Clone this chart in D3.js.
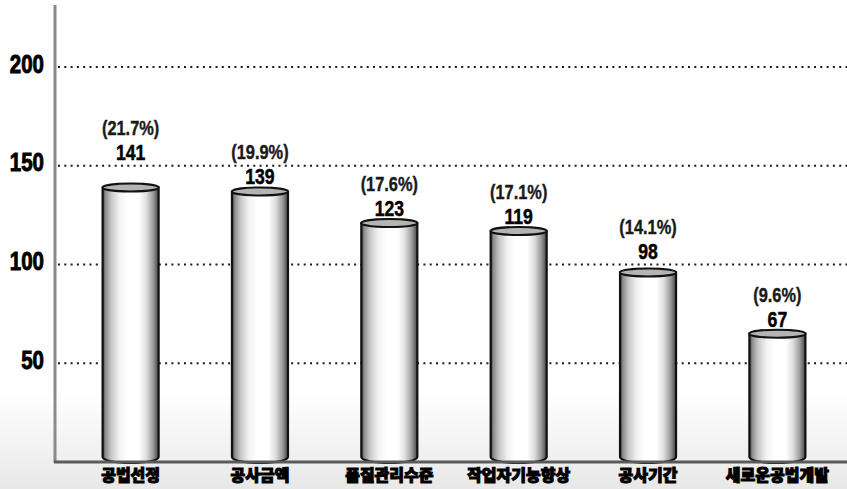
<!DOCTYPE html>
<html>
<head>
<meta charset="utf-8">
<script src="https://cdn.jsdelivr.net/npm/d3@7"></script>
<style>
  body { margin: 0; background: #fff; }
  svg { display: block; }
</style>
</head>
<body>
<div id="chart"></div>
<script>

var categories = ['공법선정', '공사금액', '품질관리수준', '작업자기능향상', '공사기간', '새로운공법개발']
var counts = [141, 139, 123, 119, 98, 67]
var shares = ['(21.7%)', '(19.9%)', '(17.6%)', '(17.1%)', '(14.1%)', '(9.6%)']
var yTicks = [50, 100, 150, 200]

var width = 847
var height = 489
var numFont = '"Liberation Sans", Arial, sans-serif'
var krFont = '"Noto Sans CJK KR", sans-serif'

var svg = d3.select('#chart')
  .append('svg')
  .attr('width', width)
  .attr('height', height)

var x = d3.scaleBand()
  .domain(categories)
  .range([66, 842])
  .paddingInner(0.567)
  .paddingOuter(0.283)

var y = d3.scaleLinear()
  .domain([0, 200])
  .range([462, 67])

function cx(i) { return x(categories[i]) + x.bandwidth() / 2 }

var defs = svg.append('defs')

// speckled lower background, faked with a soft gradient
var bg = defs.append('linearGradient')
  .attr('id', 'bgFade')
  .attr('x1', 0).attr('y1', 0).attr('x2', 0).attr('y2', 1)
bg.append('stop').attr('offset', 0).attr('stop-color', '#fff')
bg.append('stop').attr('offset', 1).attr('stop-color', '#e8e8e8')

var cyl = defs.append('linearGradient')
  .attr('id', 'cyl')
  .attr('x1', 0).attr('y1', 0).attr('x2', 1).attr('y2', 0)
var cylStops = [[0, '#3a3a3a'], [0.05, '#8c8c8c'], [0.15, '#c6c6c6'], [0.3, '#f2f2f2'],
  [0.45, '#fff'], [0.65, '#fff'], [0.78, '#dedede'], [0.9, '#9c9c9c'], [1, '#444']]
cylStops.forEach(function(s) {
  cyl.append('stop').attr('offset', s[0]).attr('stop-color', s[1])
})

svg.append('rect')
  .attr('x', 0).attr('y', 392)
  .attr('width', width).attr('height', height - 392)
  .attr('fill', 'url(#bgFade)')

// dotted grid lines
svg.append('g')
  .selectAll('line')
  .data(yTicks)
  .join('line')
    .attr('x1', 58)
    .attr('x2', width)
    .attr('y1', function(d) { return y(d) })
    .attr('y2', function(d) { return y(d) })
    .attr('stroke', '#1a1a1a')
    .attr('stroke-width', 2)
    .attr('stroke-dasharray', '2,4.3')

// y tick labels (squeezed to look like the condensed original)
var yAxis = d3.axisLeft(y).tickValues(yTicks).tickSize(0).tickPadding(0)
var ya = svg.append('g')
  .attr('transform', 'translate(44,-3)')
  .call(yAxis)
ya.select('.domain').remove()
ya.selectAll('text')
  .attr('font-family', numFont)
  .attr('font-weight', 'bold')
  .attr('font-size', 25)
  .attr('fill', '#000')
  .attr('stroke', '#000')
  .attr('stroke-width', 0.9)
  .attr('transform', 'scale(0.82,1)')

// cylinder bars
var ry = 4
var base = y(0) + 1
var bars = svg.append('g')
  .selectAll('g')
  .data(counts)
  .join('g')

bars.append('path')
  .attr('d', function(d, i) {
    var x0 = x(categories[i])
    var x1 = x0 + x.bandwidth()
    var rx = x.bandwidth() / 2
    var top = y(d) + ry
    return 'M' + x0 + ',' + top + 'L' + x0 + ',' + (base - 6) +
      'A' + rx + ',6 0 0 0 ' + x1 + ',' + (base - 6) +
      'L' + x1 + ',' + top + 'Z'
  })
  .attr('fill', 'url(#cyl)')
  .attr('stroke', '#111')
  .attr('stroke-width', 2.2)

bars.append('ellipse')
  .attr('cx', function(d, i) { return cx(i) })
  .attr('cy', function(d) { return y(d) + ry })
  .attr('rx', x.bandwidth() / 2)
  .attr('ry', ry)
  .attr('fill', '#b4b4b4')
  .attr('stroke', '#111')
  .attr('stroke-width', 2)

// axis lines
svg.append('line')
  .attr('x1', 55).attr('x2', 55)
  .attr('y1', 5).attr('y2', base)
  .attr('stroke', '#8a8a8a')
  .attr('stroke-width', 3)

svg.append('line')
  .attr('x1', 54).attr('x2', width)
  .attr('y1', base - 1).attr('y2', base - 1)
  .attr('stroke', '#5a5a5a')
  .attr('stroke-width', 3)

// value labels, pushed above a grid line if one would run through them
function labelBase(d) {
  var b = y(d) - 3
  var top = b - 16
  yTicks.forEach(function(t) {
    if (y(t) > top && y(t) < b) b = y(t) - 6
  })
  return b
}

var labels = svg.append('g')
  .attr('font-family', numFont)
  .attr('font-weight', 'bold')
  .attr('text-anchor', 'middle')
  .attr('fill', '#000')

labels.selectAll('text.val')
  .data(counts)
  .join('text')
    .attr('class', 'val')
    .attr('transform', function(d, i) {
      return 'translate(' + cx(i) + ',' + labelBase(d) + ') scale(0.8,1)'
    })
    .attr('font-size', 22)
    .attr('stroke', '#000')
    .attr('stroke-width', 0.5)
    .text(function(d) { return d })

labels.selectAll('text.pct')
  .data(counts)
  .join('text')
    .attr('class', 'pct')
    .attr('transform', function(d, i) {
      return 'translate(' + cx(i) + ',' + (labelBase(d) - 25) + ') scale(0.82,1)'
    })
    .attr('font-size', 20)
    .attr('fill', '#1a1a1a')
    .attr('stroke', '#1a1a1a')
    .attr('stroke-width', 0.4)
    .text(function(d, i) { return shares[i] })

// category labels
svg.append('g')
  .selectAll('text')
  .data(categories)
  .join('text')
    .attr('x', function(d) { return x(d) + x.bandwidth() / 2 })
    .attr('y', 481)
    .attr('text-anchor', 'middle')
    .attr('font-family', krFont)
    .attr('font-weight', 900)
    .attr('font-size', 16)
    .attr('fill', '#000')
    .attr('stroke', '#000')
    .attr('stroke-width', 1)
    .text(function(d) { return d })

</script>
</body>
</html>
